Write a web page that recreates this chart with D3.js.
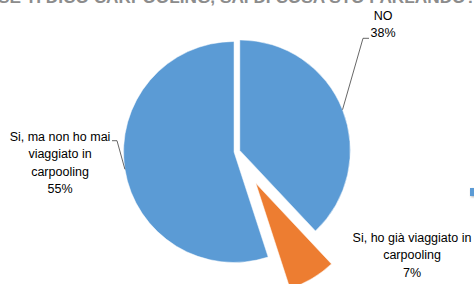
<!DOCTYPE html>
<html>
<head>
<meta charset="utf-8">
<script src="https://cdn.jsdelivr.net/npm/d3@7"></script>
<style>
  body { margin: 0; background: #fff; }
  text { font-family: "Liberation Sans", Arial, sans-serif; }
</style>
</head>
<body>
<svg id="canvas" width="474" height="284"></svg>
<script>
// dati
const categories = ["NO", "Si, ho già viaggiato in carpooling", "Si, ma non ho mai viaggiato in carpooling"];
const values = [38, 7, 55];
const colors = ["#5B9BD5", "#ED7D31", "#5B9BD5"];
const labelLines = [
  ["NO", "38%"],
  ["Si, ho già viaggiato in", "carpooling", "7%"],
  ["Si, ma non ho mai", "viaggiato in", "carpooling", "55%"]
];
const titleText = "SE TI DICO CARPOOLING, SAI DI COSA STO PARLANDO?";

const svg = d3.select("#canvas");

// titolo (tagliato in alto, come nell'originale)
svg.append("text")
  .attr("x", -2)
  .attr("y", 2.5)
  .attr("textLength", 478)
  .attr("lengthAdjust", "spacingAndGlyphs")
  .attr("font-size", 17)
  .attr("font-weight", "bold")
  .attr("fill", "#8c8c8c")
  .text(titleText);

const cx = 237, cy = 151.5, r = 110.5;
const explode = [3, 37, 3];

const pie = d3.pie().sort(null).value(d => d)(values);
const arc = d3.arc().innerRadius(0).outerRadius(r);

const offset = (d, i) => {
  const a = (d.startAngle + d.endAngle) / 2;
  return [cx + explode[i] * Math.sin(a), cy - explode[i] * Math.cos(a)];
};

const g = svg.append("g");
g.selectAll("path")
  .data(pie)
  .enter()
  .append("path")
  .attr("d", arc)
  .attr("transform", (d, i) => "translate(" + offset(d, i) + ")")
  .attr("fill", (d, i) => colors[i])
  .attr("stroke", "#fff")
  .attr("stroke-width", 0.5);

// punto sul bordo per le linee guida
const edgePoint = (i) => {
  const d = pie[i];
  const a = (d.startAngle + d.endAngle) / 2;
  const o = offset(d, i);
  return [o[0] + r * Math.sin(a), o[1] - r * Math.cos(a)];
};

const line = d3.line();
const p0 = edgePoint(0);
svg.append("path")
  .attr("d", line([p0, [363, 38.3], [369, 38.3]]))
  .attr("fill", "none").attr("stroke", "#404040").attr("stroke-width", 0.8);
const p2 = edgePoint(2);
svg.append("path")
  .attr("d", line([p2, [117, 140.7], [112, 140.7]]))
  .attr("fill", "none").attr("stroke", "#404040").attr("stroke-width", 0.8);

// etichette
const labelPos = [
  { x: 383, y: 20 },
  { x: 412, y: 241.7 },
  { x: 60, y: 140.5 }
];
const lh = 17.5;
labelLines.forEach((lines, i) => {
  const t = svg.append("text")
    .attr("text-anchor", "middle")
    .attr("font-size", 12.5)
    .attr("fill", "#000");
  lines.forEach((s, k) => {
    t.append("tspan")
      .attr("x", labelPos[i].x)
      .attr("y", labelPos[i].y + k * (i === 0 ? 16.5 : lh))
      .text(s);
  });
});

// frammento di legenda a destra
const defs = svg.append("defs");
const f = defs.append("filter").attr("id", "sh").attr("x", "-50%").attr("y", "-50%").attr("width", "200%").attr("height", "200%");
f.append("feDropShadow").attr("dx", 1).attr("dy", 1).attr("stdDeviation", 1.2).attr("flood-color", "#000").attr("flood-opacity", 0.3);
svg.append("rect")
  .attr("x", 470).attr("y", 188).attr("width", 8).attr("height", 8)
  .attr("fill", colors[0])
  .attr("filter", "url(#sh)");
</script>
</body>
</html>
